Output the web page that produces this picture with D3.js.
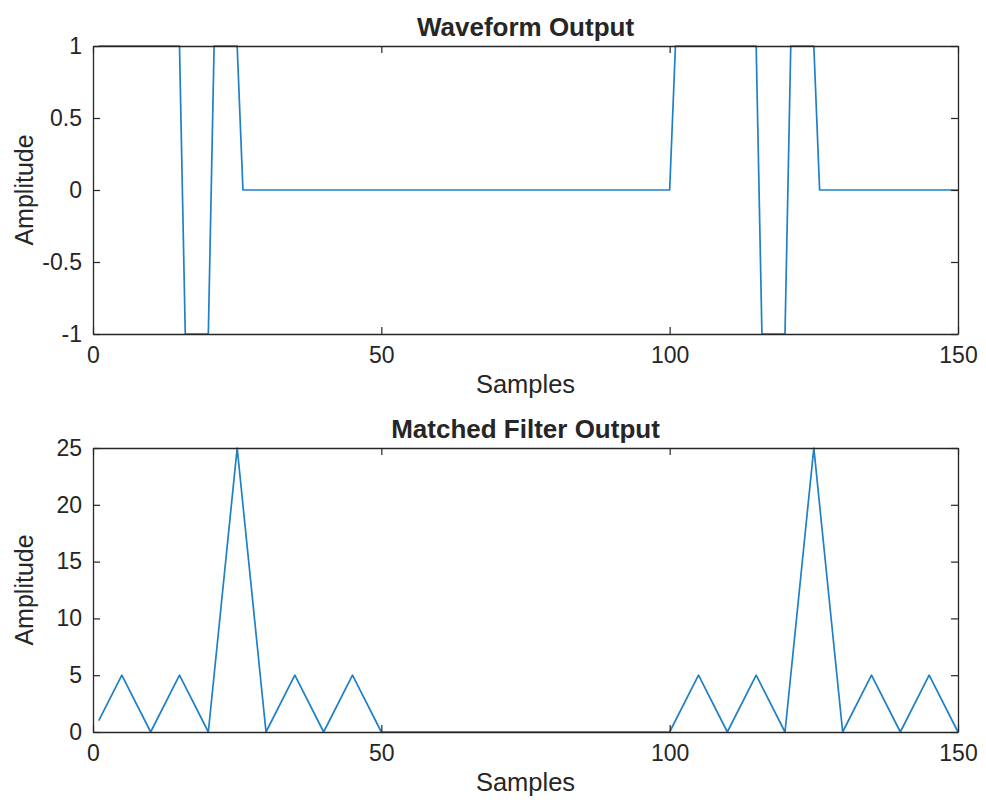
<!DOCTYPE html>
<html>
<head>
<meta charset="utf-8">
<script src="https://cdn.jsdelivr.net/npm/d3@7"></script>
<style>
  html, body { margin: 0; padding: 0; background: #fff; }
  svg { display: block; }
  text { font-family: "Liberation Sans", Arial, Helvetica, sans-serif; fill: #262626; }
</style>
</head>
<body>
<svg id="chart" width="986" height="802"></svg>
<script>
// ---- Data ----
// Waveform output (breakpoints of the piecewise-constant pulse train)
const waveSamples = [1, 15, 16, 20, 21, 25, 26, 100, 101, 115, 116, 120, 121, 125, 126, 150];
const waveAmplitude = [1, 1, -1, -1, 1, 1, 0, 0, 1, 1, -1, -1, 1, 1, 0, 0];

// Matched filter output (vertices of the piecewise-linear response)
const mfSamples = [1, 5, 10, 15, 20, 25, 30, 35, 40, 45, 50, 100, 105, 110, 115, 120, 125, 130, 135, 140, 145, 150];
const mfAmplitude = [1, 5, 0, 5, 0, 25, 0, 5, 0, 5, 0, 0, 5, 0, 5, 0, 25, 0, 5, 0, 5, 0];

const xTicks = [0, 50, 100, 150];
const waveYTicks = [-1, -0.5, 0, 0.5, 1];
const mfYTicks = [0, 5, 10, 15, 20, 25];

const titles = ["Waveform Output", "Matched Filter Output"];
const xLabel = "Samples";
const yLabel = "Amplitude";

// ---- Drawing ----
const svg = d3.select("#chart");
const axisColor = "#262626";
const lineColor = "#1f80c6";
const tickLen = 7;

function panel(cfg) {
  const { left, right, top, bottom, xs, ys, yDomain, yTicks, title } = cfg;
  const x = d3.scaleLinear().domain([0, 150]).range([left, right]);
  const y = d3.scaleLinear().domain(yDomain).range([bottom, top]);
  const g = svg.append("g");

  // data line
  const pts = xs.map((d, i) => [d, ys[i]]);
  g.append("path")
    .datum(pts)
    .attr("fill", "none")
    .attr("stroke", lineColor)
    .attr("stroke-width", 1.7)
    .attr("stroke-linejoin", "round")
    .attr("d", d3.line().x(d => x(d[0])).y(d => y(d[1])));

  const fmt = d => String(d);

  // bottom axis
  const xb = g.append("g").attr("transform", `translate(0,${bottom})`)
    .call(d3.axisBottom(x).tickValues(xTicks).tickSizeInner(-tickLen).tickSizeOuter(0).tickPadding(13).tickFormat(fmt));
  // top axis (ticks only)
  const xt = g.append("g").attr("transform", `translate(0,${top})`)
    .call(d3.axisTop(x).tickValues(xTicks).tickSizeInner(-tickLen).tickSizeOuter(0).tickFormat(""));
  // left axis
  const yl = g.append("g").attr("transform", `translate(${left},0)`)
    .call(d3.axisLeft(y).tickValues(yTicks).tickSizeInner(-tickLen).tickSizeOuter(0).tickPadding(11).tickFormat(fmt));
  // right axis (ticks only)
  const yr = g.append("g").attr("transform", `translate(${right},0)`)
    .call(d3.axisRight(y).tickValues(yTicks).tickSizeInner(-tickLen).tickSizeOuter(0).tickFormat(""));

  [xb, xt, yl, yr].forEach(a => {
    a.selectAll("path.domain").attr("stroke", axisColor).attr("stroke-width", 1.3);
    a.selectAll(".tick line").attr("stroke", axisColor).attr("stroke-width", 1.2);
    a.selectAll(".tick text").attr("fill", axisColor).style("font-size", "23px")
      .style("font-family", '"Liberation Sans", Arial, sans-serif');
  });

  // title
  g.append("text")
    .attr("x", (left + right) / 2)
    .attr("y", top - 10)
    .attr("text-anchor", "middle")
    .style("font-size", "26px")
    .style("font-weight", "bold")
    .text(title);

  // x label
  g.append("text")
    .attr("x", (left + right) / 2)
    .attr("y", bottom + 59)
    .attr("text-anchor", "middle")
    .style("font-size", "25.5px")
    .text(xLabel);

  // y label
  g.append("text")
    .attr("transform", `translate(${left - 60},${(top + bottom) / 2}) rotate(-90)`)
    .attr("text-anchor", "middle")
    .style("font-size", "25px")
    .text(yLabel);
}

panel({ left: 93, right: 958, top: 46, bottom: 334, xs: waveSamples, ys: waveAmplitude,
        yDomain: [-1, 1], yTicks: waveYTicks, title: titles[0] });
panel({ left: 93, right: 958, top: 448, bottom: 732, xs: mfSamples, ys: mfAmplitude,
        yDomain: [0, 25], yTicks: mfYTicks, title: titles[1] });
</script>
</body>
</html>
